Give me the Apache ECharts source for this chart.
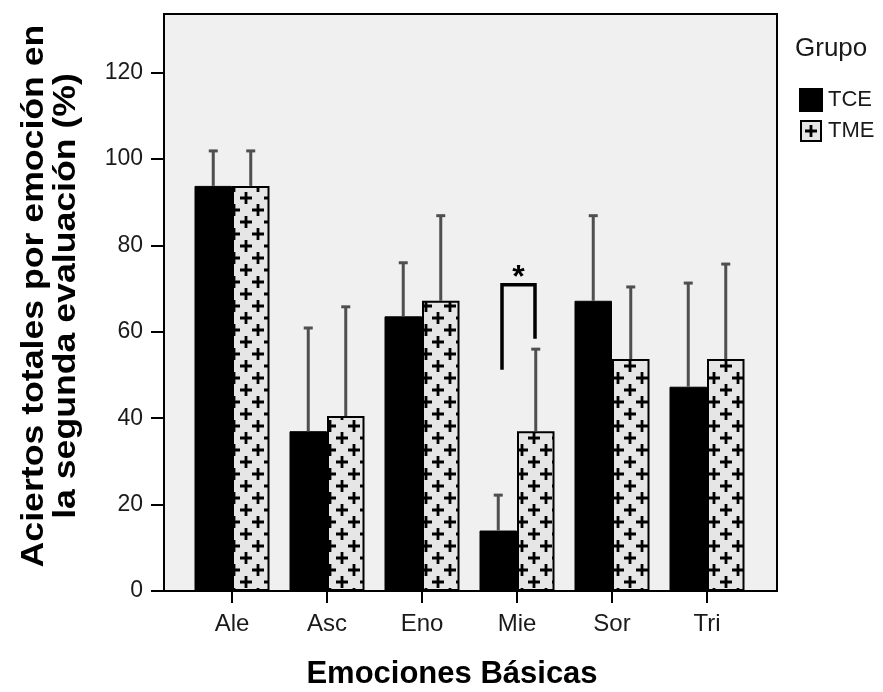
<!DOCTYPE html>
<html><head><meta charset="utf-8">
<script src="https://cdn.jsdelivr.net/npm/echarts@6/dist/echarts.min.js"></script>
<style>html,body{margin:0;padding:0;background:#fff}#c{width:883px;height:692px}</style>
</head><body><div id="c"></div>
<script>
// ---- data ----
const categories = ['Ale', 'Asc', 'Eno', 'Mie', 'Sor', 'Tri'];
const groupNames = ['TCE', 'TME'];
const tceMean  = [93.8, 37.0, 63.6, 14.0, 67.2, 47.3];
const tceUpper = [101.9, 60.9, 76.0, 22.2, 86.9, 71.3];
const tmeMean  = [93.8, 40.5, 67.2, 37.0, 53.7, 53.7];
const tmeUpper = [101.9, 65.8, 86.9, 56.0, 70.4, 75.7];
const yTickValues = [0, 20, 40, 60, 80, 100, 120];
const bracketCategory = 'Mie';
const bracketLeftBottom = 51.2;
const bracketTop = 70.9;
const bracketRightBottom = 58.4;
const bracketLabel = '*';

// ---- style / layout ----
const FONT = '"Liberation Sans", Arial, sans-serif';
const Y_MAX = 133.6;
const BAR_W = 37.5;
const PLOT = { left: 164, right: 106, top: 14, bottom: 101 };
const CAT = { left: 184.5, right: 128.5, top: 14, bottom: 101 };

function makePattern() {
  const c = document.createElement('canvas');
  c.width = 24; c.height = 24;
  const g = c.getContext('2d');
  g.fillStyle = '#e6e6e6'; g.fillRect(0, 0, 24, 24);
  g.strokeStyle = '#000'; g.lineWidth = 2.8;
  [[6, 6], [18, 18]].forEach(([x, y]) => {
    g.beginPath();
    g.moveTo(x - 6, y); g.lineTo(x + 6, y);
    g.moveTo(x, y - 6); g.lineTo(x, y + 6);
    g.stroke();
  });
  return c;
}
function makeLegendIcon() {
  const c = document.createElement('canvas');
  c.width = 22; c.height = 22;
  const g = c.getContext('2d');
  g.fillStyle = '#e6e6e6'; g.fillRect(0, 0, 22, 22);
  g.strokeStyle = '#000'; g.lineWidth = 2;
  g.strokeRect(1, 1, 20, 20);
  g.lineWidth = 2.8;
  g.beginPath(); g.moveTo(5, 11); g.lineTo(17, 11); g.moveTo(11, 5); g.lineTo(11, 17); g.stroke();
  return c.toDataURL();
}

function errRender(sign) {
  return function (params, api) {
    const ci = api.value(0);
    const p0 = api.coord([ci, api.value(1)]);
    const p1 = api.coord([ci, api.value(2)]);
    const x = p0[0] + sign * BAR_W / 2;
    return {
      type: 'group', children: [
        { type: 'line', shape: { x1: x, y1: p0[1], x2: x, y2: p1[1] }, style: { stroke: '#4f4f4f', lineWidth: 3 } },
        { type: 'line', shape: { x1: x - 4.5, y1: p1[1], x2: x + 4.5, y2: p1[1] }, style: { stroke: '#4f4f4f', lineWidth: 3 } }
      ]
    };
  };
}
function bracketRender(params, api) {
  const ci = api.value(0);
  const lb = api.coord([ci, api.value(1)]);
  const tp = api.coord([ci, api.value(2)]);
  const rb = api.coord([ci, api.value(3)]);
  const xl = lb[0] - 15, xr = lb[0] + 18;
  return {
    type: 'group', children: [
      { type: 'polyline', shape: { points: [[xl, lb[1]], [xl, tp[1]], [xr, tp[1]], [xr, rb[1]]] },
        style: { stroke: '#000', lineWidth: 3.5, fill: null } },
      { type: 'text', x: (xl + xr) / 2, y: tp[1] + 9,
        style: { text: bracketLabel, font: 'bold 32px ' + FONT, fill: '#000', align: 'center', verticalAlign: 'bottom' } }
    ]
  };
}

const chart = echarts.init(document.getElementById('c'), null, { renderer: 'canvas' });
const pattern = { image: makePattern(), repeat: 'repeat' };
const bi = categories.indexOf(bracketCategory);

chart.setOption({
  animation: false,
  backgroundColor: '#ffffff',
  grid: [
    Object.assign({ show: true, backgroundColor: '#f0f0f0', borderColor: '#000', borderWidth: 2 }, PLOT),
    Object.assign({ show: false }, CAT)
  ],
  xAxis: [
    { gridIndex: 0, type: 'value', min: 0, max: 1, show: false },
    { gridIndex: 1, type: 'category', data: categories,
      axisLine: { show: false },
      axisTick: { show: true, alignWithLabel: true, length: 12, lineStyle: { color: '#000', width: 2 } },
      axisLabel: { color: '#1a1a1a', fontSize: 24, fontFamily: FONT, margin: 21 } }
  ],
  yAxis: [
    { gridIndex: 0, type: 'value', min: 0, max: Y_MAX,
      axisLine: { show: true, lineStyle: { color: '#000', width: 2 } },
      axisTick: { show: true, length: 13, customValues: yTickValues, lineStyle: { color: '#000', width: 2 } },
      axisLabel: { customValues: yTickValues, color: '#1a1a1a', fontSize: 23, fontFamily: FONT, margin: 21 },
      splitLine: { show: false } },
    { gridIndex: 1, type: 'value', min: 0, max: Y_MAX, show: false, splitLine: { show: false } }
  ],
  legend: {
    orient: 'vertical', left: 794, top: 83, itemWidth: 22, itemHeight: 22, itemGap: 8,
    textStyle: { fontSize: 22, color: '#1a1a1a', fontFamily: FONT, padding: [0, 0, 0, 1] },
    data: [
      { name: groupNames[0], icon: 'rect' },
      { name: groupNames[1], icon: 'image://' + makeLegendIcon() }
    ]
  },
  graphic: [
    { type: 'text', x: 795, y: 49, style: { text: 'Grupo', font: '26px ' + FONT, fill: '#1a1a1a', align: 'left', verticalAlign: 'middle' } },
    { type: 'text', x: 452, y: 674, style: { text: 'Emociones Básicas', font: 'bold 31px ' + FONT, fill: '#000', align: 'center', verticalAlign: 'middle' } },
    { type: 'text', x: 50, y: 296, rotation: Math.PI / 2, scaleX: 1.15,
      style: { text: 'Aciertos totales por emoción en\nla segunda evaluación (%)', font: 'bold 31px ' + FONT, lineHeight: 32, fill: '#000', align: 'center', verticalAlign: 'middle' } }
  ],
  series: [
    { name: groupNames[0], type: 'bar', xAxisIndex: 1, yAxisIndex: 1, data: tceMean, barWidth: BAR_W, barGap: '0%',
      itemStyle: { color: '#000', borderColor: '#000', borderWidth: 1 }, z: 2 },
    { name: groupNames[1], type: 'bar', xAxisIndex: 1, yAxisIndex: 1, data: tmeMean, barWidth: BAR_W, barGap: '0%',
      itemStyle: { color: pattern, borderColor: '#000', borderWidth: 2 }, z: 2 },
    { type: 'custom', xAxisIndex: 1, yAxisIndex: 1, renderItem: errRender(-1), z: 3,
      data: tceMean.map((m, i) => [i, m, tceUpper[i]]), encode: { x: 0, y: [1, 2] } },
    { type: 'custom', xAxisIndex: 1, yAxisIndex: 1, renderItem: errRender(1), z: 3,
      data: tmeMean.map((m, i) => [i, m, tmeUpper[i]]), encode: { x: 0, y: [1, 2] } },
    { type: 'custom', xAxisIndex: 1, yAxisIndex: 1, renderItem: bracketRender, z: 4,
      data: [[bi, bracketLeftBottom, bracketTop, bracketRightBottom]], encode: { x: 0, y: [1, 2, 3] } }
  ]
});
</script></body></html>
